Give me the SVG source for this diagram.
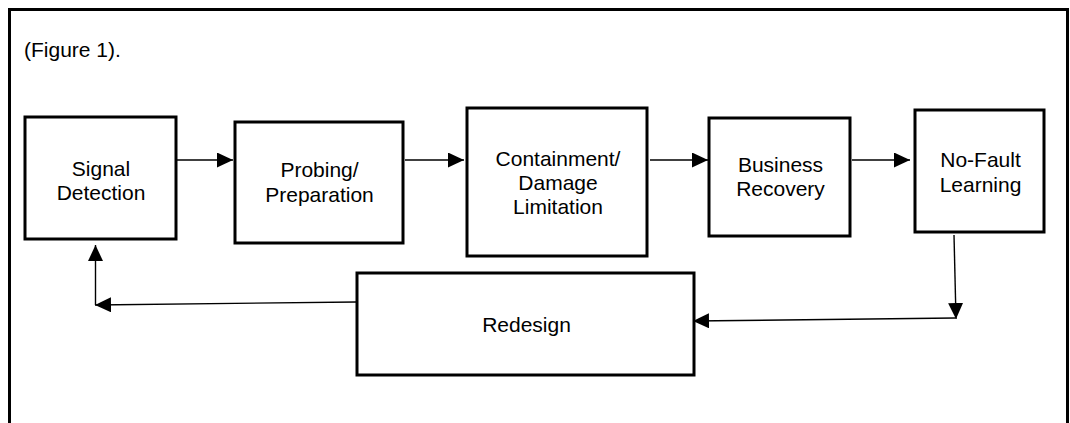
<svg xmlns="http://www.w3.org/2000/svg" width="1070" height="423" viewBox="0 0 1070 423">
  <style>
    .frame { fill: none; stroke: #000; stroke-width: 3; }
    .box { fill: #fff; stroke: #000; stroke-width: 3; }
    .lbl { font-family: "Liberation Sans", Arial, sans-serif; font-size: 21px; fill: #000; text-anchor: middle; }
    .cap { font-family: "Liberation Sans", Arial, sans-serif; font-size: 21px; fill: #000; }
    .link { fill: none; stroke: #000; stroke-width: 1.4; marker-end: url(#arrow); }
  </style>
  <defs>
    <marker id="arrow" markerUnits="userSpaceOnUse" markerWidth="16" markerHeight="15" refX="16" refY="7.5" orient="auto">
      <path d="M0,0 L16,7.5 L0,15 z" fill="#000"/>
    </marker>
  </defs>

  <rect width="1070" height="423" fill="#fff"/>
  <!-- surrounding frame, open at the bottom edge of the page -->
  <rect class="frame" x="9.5" y="9.5" width="1058" height="440"/>
  <text class="cap" x="24" y="57">(Figure 1).</text>

  <g id="signal-detection">
    <rect class="box" x="25" y="117" width="151" height="122"/>
    <text class="lbl" x="101" y="176">Signal</text>
    <text class="lbl" x="101" y="200">Detection</text>
  </g>
  <g id="probing-preparation">
    <rect class="box" x="235" y="122" width="168" height="121"/>
    <text class="lbl" x="319.5" y="177">Probing/</text>
    <text class="lbl" x="319.5" y="202">Preparation</text>
  </g>
  <g id="containment">
    <rect class="box" x="467" y="108" width="180" height="148"/>
    <text class="lbl" x="558" y="166">Containment/</text>
    <text class="lbl" x="558" y="190">Damage</text>
    <text class="lbl" x="558" y="214">Limitation</text>
  </g>
  <g id="business-recovery">
    <rect class="box" x="709" y="118" width="141" height="118"/>
    <text class="lbl" x="780.5" y="172">Business</text>
    <text class="lbl" x="780.5" y="196">Recovery</text>
  </g>
  <g id="no-fault-learning">
    <rect class="box" x="915" y="110" width="129" height="122"/>
    <text class="lbl" x="980.5" y="167">No-Fault</text>
    <text class="lbl" x="980.5" y="192">Learning</text>
  </g>
  <g id="redesign">
    <rect class="box" x="357" y="273" width="337" height="102"/>
    <text class="lbl" x="526.5" y="332">Redesign</text>
  </g>

  <g id="connectors">
    <line class="link" x1="177" y1="160" x2="233" y2="160"/>
    <line class="link" x1="405" y1="160" x2="464" y2="160"/>
    <line class="link" x1="650" y1="160" x2="708" y2="160"/>
    <line class="link" x1="852" y1="160" x2="910" y2="160"/>
    <line class="link" x1="954" y1="235" x2="956" y2="319"/>
    <line class="link" x1="955" y1="318" x2="693" y2="321"/>
    <line class="link" x1="356" y1="302" x2="95" y2="305"/>
    <line class="link" x1="95.5" y1="305" x2="95.5" y2="245"/>
  </g>
</svg>
